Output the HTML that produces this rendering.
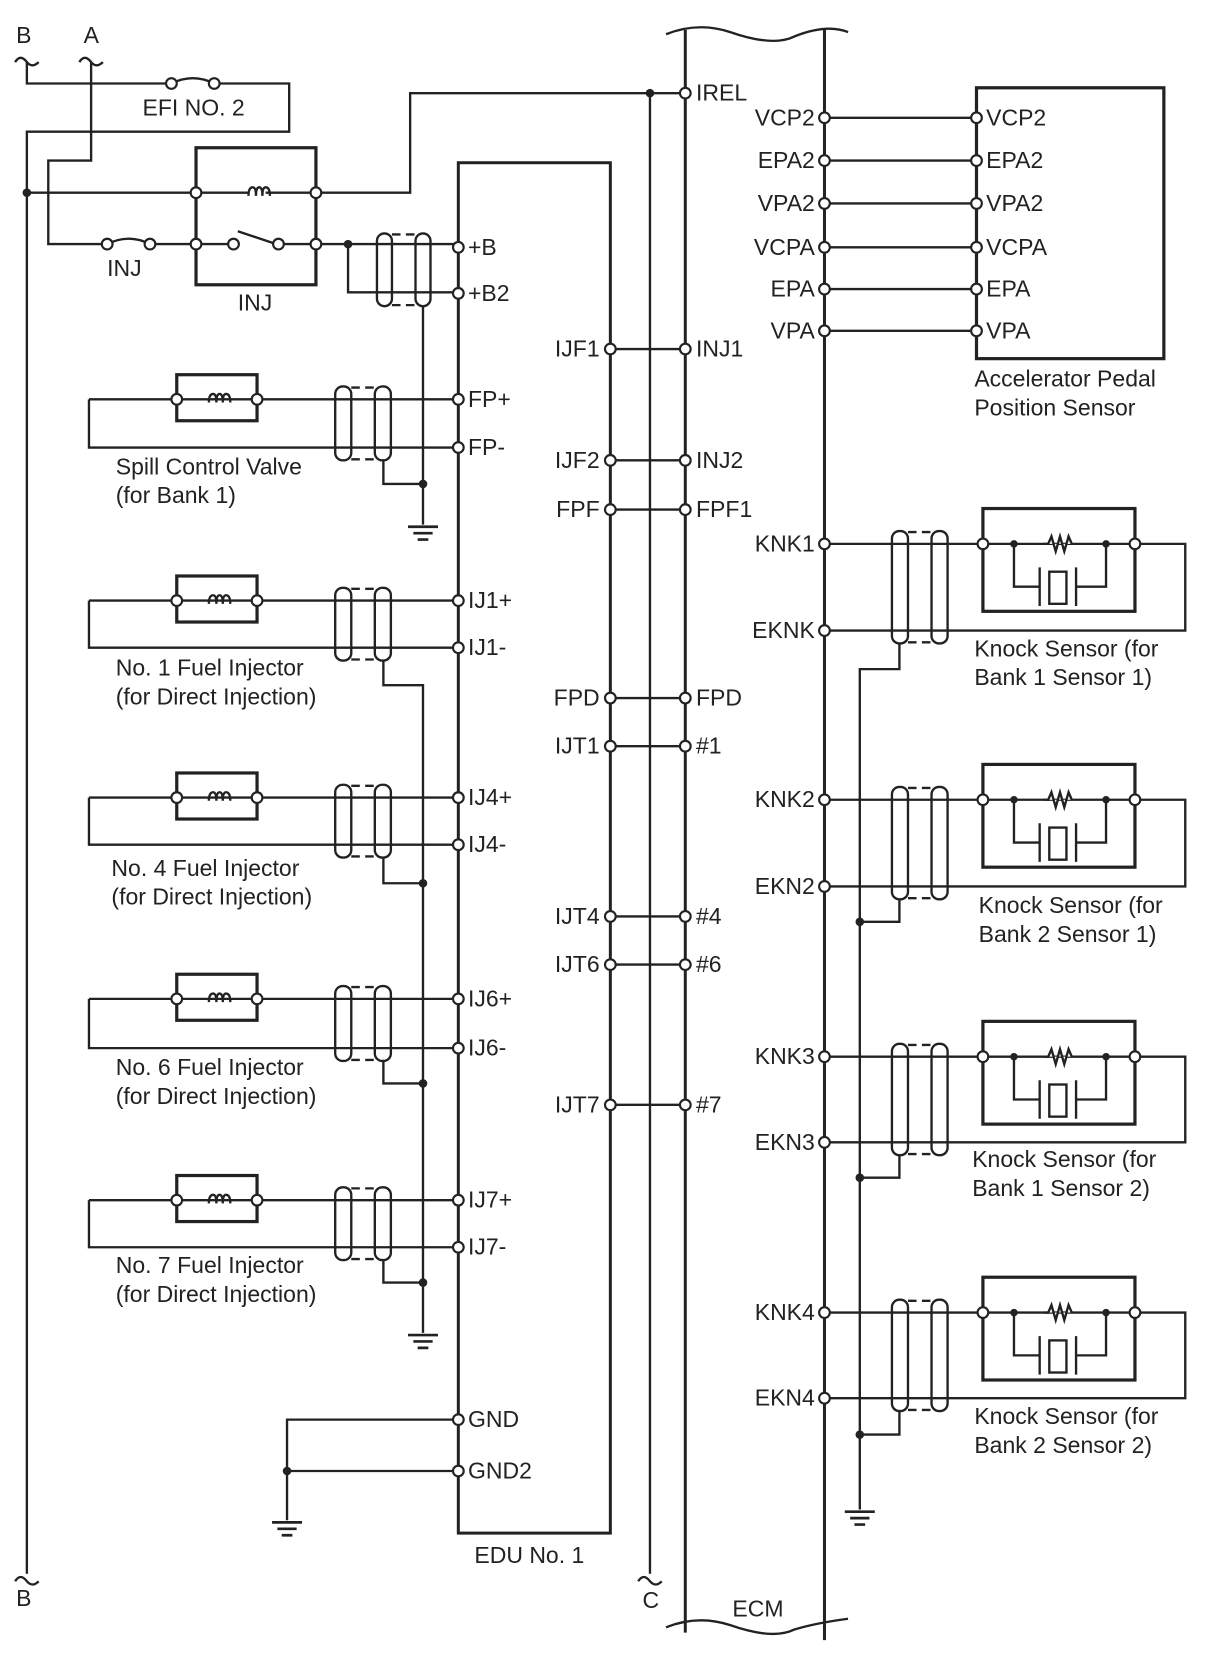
<!DOCTYPE html>
<html><head><meta charset="utf-8"><style>
html,body{margin:0;padding:0;background:#fff}
svg{display:block}
text{font-family:"Liberation Sans",sans-serif;font-size:21.5px;fill:#222}
</style></head><body>
<svg width="1210" height="1668" viewBox="0 0 1130 1558" xmlns="http://www.w3.org/2000/svg">
<defs>
<g id="coil"><path d="M-8,0 q0,-8 4,-8 q3,0 3,8 q0,-8 3,-8 q3,0 3,8 q0,-8 3,-8 q4,0 4,8" fill="none" stroke="#222" stroke-width="2.2"/></g>
<g id="inj">
<rect x="0" y="-23" width="75" height="43" fill="none" stroke="#222" stroke-width="3"/>
<use href="#coil" x="38" y="3"/>
<circle cx="0" cy="0" r="5" fill="#fff" stroke="#222" stroke-width="2"/>
<circle cx="75" cy="0" r="5" fill="#fff" stroke="#222" stroke-width="2"/>
</g>
<g id="ks">
<rect x="0" y="-33" width="142" height="96" fill="none" stroke="#222" stroke-width="3"/>
<path d="M29,0 V40 H53 M53,22 V58 M87,22 V58 M87,40 H115 V0" fill="none" stroke="#222" stroke-width="2.2"/>
<rect x="62" y="26" width="16" height="30" fill="none" stroke="#222" stroke-width="2.2"/>
<path d="M57,0 L61,0 L64,-7 L68,7 L72,-7 L76,7 L80,-7 L83,0" fill="#fff" stroke="#222" stroke-width="2.2"/>
<circle cx="29" cy="0" r="3.5" fill="#222"/><circle cx="115" cy="0" r="3.5" fill="#222"/>
<circle cx="0" cy="0" r="5" fill="#fff" stroke="#222" stroke-width="2"/>
<circle cx="142" cy="0" r="5" fill="#fff" stroke="#222" stroke-width="2"/>
</g>
<g id="gnd"><path d="M-14,0 H14 M-9,6 H9 M-5,12 H5" stroke="#222" stroke-width="2.5"/></g>
</defs>
<g fill="none" stroke="#222" stroke-width="2.2">
<path d="M14,58 q5,-8 11,0 q5,6 11,0 M74,58 q5,-8 11,0 q5,6 11,0"/>
<path d="M25,58 V78 H160 M200,78 H270 V123 H25 V1470"/>
<path d="M160,78 q20,-10 40,0"/>
<path d="M14,1477 q5,-8 11,0 q5,6 11,0"/>
<path d="M85,58 V150 H45 V228 H100 M140,228 H183"/>
<path d="M100,228 q20,-10 40,0"/>
<rect x="183" y="138" width="112" height="128" stroke-width="3"/>
<path d="M25,180 H232 M248,180 H383 V87 H640"/>
<path d="M183,228 H218 M222,216 L258,228 M262,228 H428 M325,228 V273 H428"/>
<path d="M607,87 V1470"/>
<path d="M596,1477 q5,-8 11,0 q5,6 11,0"/>
<rect x="428" y="152" width="142" height="1280" stroke-width="2.8"/>
<path d="M640,28 V1525 M770,28 V1532" stroke-width="2.8"/>
<path d="M622,32 q30,-12 60,-2 q40,14 60,4 q30,-12 50,-4"/>
<path d="M622,1520 q30,-12 60,-2 q40,14 60,4 q20,-6 50,-10"/>
<path d="M570,326 H640 M570,430 H640 M570,476 H640 M570,652 H640 M570,697 H640 M570,856 H640 M570,901 H640 M570,1032 H640"/>
<rect x="912" y="82" width="175" height="253" stroke-width="3"/>
<path d="M770,110 H912 M770,150 H912 M770,190 H912 M770,231 H912 M770,270 H912 M770,309 H912"/>
<rect x="352" y="218" width="14" height="68" rx="7"/>
<rect x="388" y="218" width="14" height="68" rx="7"/>
<path d="M366,219 H388 M366,285 H388" stroke-dasharray="8,5"/>
<path d="M395,286 V490"/>
<path d="M83,373 V418 H428 M83,373 H428"/>
<path d="M83,561 V605 H428 M83,561 H428"/>
<path d="M83,745 V789 H428 M83,745 H428"/>
<path d="M83,933 V979 H428 M83,933 H428"/>
<path d="M83,1121 V1165 H428 M83,1121 H428"/>
<g>
<rect x="313" y="361" width="15" height="69" rx="7"/><rect x="350" y="361" width="15" height="69" rx="7"/><path d="M328,362 H350 M328,429 H350" stroke-dasharray="8,5"/>
<rect x="313" y="549" width="15" height="68" rx="7"/><rect x="350" y="549" width="15" height="68" rx="7"/><path d="M328,550 H350 M328,616 H350" stroke-dasharray="8,5"/>
<rect x="313" y="733" width="15" height="68" rx="7"/><rect x="350" y="733" width="15" height="68" rx="7"/><path d="M328,734 H350 M328,800 H350" stroke-dasharray="8,5"/>
<rect x="313" y="921" width="15" height="70" rx="7"/><rect x="350" y="921" width="15" height="70" rx="7"/><path d="M328,922 H350 M328,990 H350" stroke-dasharray="8,5"/>
<rect x="313" y="1109" width="15" height="68" rx="7"/><rect x="350" y="1109" width="15" height="68" rx="7"/><path d="M328,1110 H350 M328,1176 H350" stroke-dasharray="8,5"/>
</g>
<path d="M358,430 V452 H395"/>
<path d="M358,617 V640 H395 V1245"/>
<path d="M358,801 V825 H395 M358,991 V1012 H395 M358,1177 V1198 H395"/>
<path d="M428,1326 H268 V1420 M428,1374 H268"/>
<path d="M770,508 H1107 V589 H770"/>
<path d="M770,747 H1107 V828 H770"/>
<path d="M770,987 H1107 V1067 H770"/>
<path d="M770,1226 H1107 V1306 H770"/>
<g>
<rect x="833" y="496" width="15" height="105" rx="7"/><rect x="870" y="496" width="15" height="105" rx="7"/><path d="M848,497 H870 M848,600 H870" stroke-dasharray="8,5"/>
<rect x="833" y="735" width="15" height="105" rx="7"/><rect x="870" y="735" width="15" height="105" rx="7"/><path d="M848,736 H870 M848,839 H870" stroke-dasharray="8,5"/>
<rect x="833" y="975" width="15" height="104" rx="7"/><rect x="870" y="975" width="15" height="104" rx="7"/><path d="M848,976 H870 M848,1078 H870" stroke-dasharray="8,5"/>
<rect x="833" y="1214" width="15" height="104" rx="7"/><rect x="870" y="1214" width="15" height="104" rx="7"/><path d="M848,1215 H870 M848,1317 H870" stroke-dasharray="8,5"/>
</g>
<path d="M840,601 V625 H803 V1410"/>
<path d="M840,840 V861 H803 M840,1079 V1100 H803 M840,1318 V1340 H803"/>
</g>
<use href="#coil" x="240" y="183"/>
<circle cx="218" cy="228" r="5" fill="#fff" stroke="#222" stroke-width="2"/>
<circle cx="260" cy="228" r="5" fill="#fff" stroke="#222" stroke-width="2"/>
<g fill="#fff" stroke="#222" stroke-width="2">
<circle cx="160" cy="78" r="5"/><circle cx="200" cy="78" r="5"/>
<circle cx="100" cy="228" r="5"/><circle cx="140" cy="228" r="5"/>
<circle cx="183" cy="180" r="5"/><circle cx="295" cy="180" r="5"/><circle cx="183" cy="228" r="5"/><circle cx="295" cy="228" r="5"/>
<circle cx="640" cy="87" r="5"/>
<circle cx="428" cy="231" r="5"/><circle cx="428" cy="274" r="5"/><circle cx="428" cy="373" r="5"/><circle cx="428" cy="418" r="5"/>
<circle cx="428" cy="561" r="5"/><circle cx="428" cy="605" r="5"/><circle cx="428" cy="745" r="5"/><circle cx="428" cy="789" r="5"/>
<circle cx="428" cy="933" r="5"/><circle cx="428" cy="979" r="5"/><circle cx="428" cy="1121" r="5"/><circle cx="428" cy="1165" r="5"/>
<circle cx="428" cy="1326" r="5"/><circle cx="428" cy="1374" r="5"/>
<circle cx="570" cy="326" r="5"/><circle cx="570" cy="430" r="5"/><circle cx="570" cy="476" r="5"/><circle cx="570" cy="652" r="5"/><circle cx="570" cy="697" r="5"/><circle cx="570" cy="856" r="5"/><circle cx="570" cy="901" r="5"/><circle cx="570" cy="1032" r="5"/>
<circle cx="640" cy="326" r="5"/><circle cx="640" cy="430" r="5"/><circle cx="640" cy="476" r="5"/><circle cx="640" cy="652" r="5"/><circle cx="640" cy="697" r="5"/><circle cx="640" cy="856" r="5"/><circle cx="640" cy="901" r="5"/><circle cx="640" cy="1032" r="5"/>
<circle cx="770" cy="110" r="5"/><circle cx="770" cy="150" r="5"/><circle cx="770" cy="190" r="5"/><circle cx="770" cy="231" r="5"/><circle cx="770" cy="270" r="5"/><circle cx="770" cy="309" r="5"/>
<circle cx="912" cy="110" r="5"/><circle cx="912" cy="150" r="5"/><circle cx="912" cy="190" r="5"/><circle cx="912" cy="231" r="5"/><circle cx="912" cy="270" r="5"/><circle cx="912" cy="309" r="5"/>
<circle cx="770" cy="508" r="5"/><circle cx="770" cy="589" r="5"/><circle cx="770" cy="747" r="5"/><circle cx="770" cy="828" r="5"/><circle cx="770" cy="987" r="5"/><circle cx="770" cy="1067" r="5"/><circle cx="770" cy="1226" r="5"/><circle cx="770" cy="1306" r="5"/>
</g>
<g fill="#222">
<circle cx="25" cy="180" r="4"/><circle cx="607" cy="87" r="4"/><circle cx="325" cy="228" r="4"/>
<circle cx="395" cy="452" r="4"/><circle cx="395" cy="825" r="4"/><circle cx="395" cy="1012" r="4"/><circle cx="395" cy="1198" r="4"/>
<circle cx="268" cy="1374" r="4"/>
<circle cx="803" cy="861" r="4"/><circle cx="803" cy="1100" r="4"/><circle cx="803" cy="1340" r="4"/>
</g>
<use href="#inj" x="165" y="373"/><use href="#inj" x="165" y="561"/><use href="#inj" x="165" y="745"/><use href="#inj" x="165" y="933"/><use href="#inj" x="165" y="1121"/>
<use href="#ks" x="918" y="508"/><use href="#ks" x="918" y="747"/><use href="#ks" x="918" y="987"/><use href="#ks" x="918" y="1226"/>
<use href="#gnd" x="395" y="492"/><use href="#gnd" x="395" y="1247"/><use href="#gnd" x="268" y="1422"/><use href="#gnd" x="803" y="1412"/>
<text x="15" y="40">B</text><text x="78" y="40">A</text><text x="15" y="1500">B</text><text x="600" y="1502">C</text>
<text x="133" y="108">EFI NO. 2</text>
<text x="100" y="258">INJ</text><text x="222" y="290">INJ</text>
<text x="437" y="238">+B</text><text x="437" y="281">+B2</text>
<text x="437" y="380">FP+</text><text x="437" y="425">FP-</text>
<text x="437" y="568">IJ1+</text><text x="437" y="612">IJ1-</text>
<text x="437" y="752">IJ4+</text><text x="437" y="796">IJ4-</text>
<text x="437" y="940">IJ6+</text><text x="437" y="986">IJ6-</text>
<text x="437" y="1128">IJ7+</text><text x="437" y="1172">IJ7-</text>
<text x="437" y="1333">GND</text><text x="437" y="1381">GND2</text>
<text x="443" y="1460">EDU No. 1</text>
<g text-anchor="end">
<text x="560" y="333">IJF1</text><text x="560" y="437">IJF2</text><text x="560" y="483">FPF</text><text x="560" y="659">FPD</text>
<text x="560" y="704">IJT1</text><text x="560" y="863">IJT4</text><text x="560" y="908">IJT6</text><text x="560" y="1039">IJT7</text>
<text x="761" y="117">VCP2</text><text x="761" y="157">EPA2</text><text x="761" y="197">VPA2</text><text x="761" y="238">VCPA</text><text x="761" y="277">EPA</text><text x="761" y="316">VPA</text>
<text x="761" y="515">KNK1</text><text x="761" y="596">EKNK</text><text x="761" y="754">KNK2</text><text x="761" y="835">EKN2</text>
<text x="761" y="994">KNK3</text><text x="761" y="1074">EKN3</text><text x="761" y="1233">KNK4</text><text x="761" y="1313">EKN4</text>
</g>
<text x="650" y="94">IREL</text>
<text x="650" y="333">INJ1</text><text x="650" y="437">INJ2</text><text x="650" y="483">FPF1</text><text x="650" y="659">FPD</text>
<text x="650" y="704">#1</text><text x="650" y="863">#4</text><text x="650" y="908">#6</text><text x="650" y="1039">#7</text>
<text x="684" y="1510">ECM</text>
<text x="921" y="117">VCP2</text><text x="921" y="157">EPA2</text><text x="921" y="197">VPA2</text><text x="921" y="238">VCPA</text><text x="921" y="277">EPA</text><text x="921" y="316">VPA</text>
<text x="910" y="361">Accelerator Pedal</text><text x="910" y="388">Position Sensor</text>
<text x="108" y="443">Spill Control Valve</text><text x="108" y="470">(for Bank 1)</text>
<text x="108" y="631">No. 1 Fuel Injector</text><text x="108" y="658">(for Direct Injection)</text>
<text x="104" y="818">No. 4 Fuel Injector</text><text x="104" y="845">(for Direct Injection)</text>
<text x="108" y="1004">No. 6 Fuel Injector</text><text x="108" y="1031">(for Direct Injection)</text>
<text x="108" y="1189">No. 7 Fuel Injector</text><text x="108" y="1216">(for Direct Injection)</text>
<text x="910" y="613">Knock Sensor (for</text><text x="910" y="640">Bank 1 Sensor 1)</text>
<text x="914" y="853">Knock Sensor (for</text><text x="914" y="880">Bank 2 Sensor 1)</text>
<text x="908" y="1090">Knock Sensor (for</text><text x="908" y="1117">Bank 1 Sensor 2)</text>
<text x="910" y="1330">Knock Sensor (for</text><text x="910" y="1357">Bank 2 Sensor 2)</text>
</svg>
</body></html>
